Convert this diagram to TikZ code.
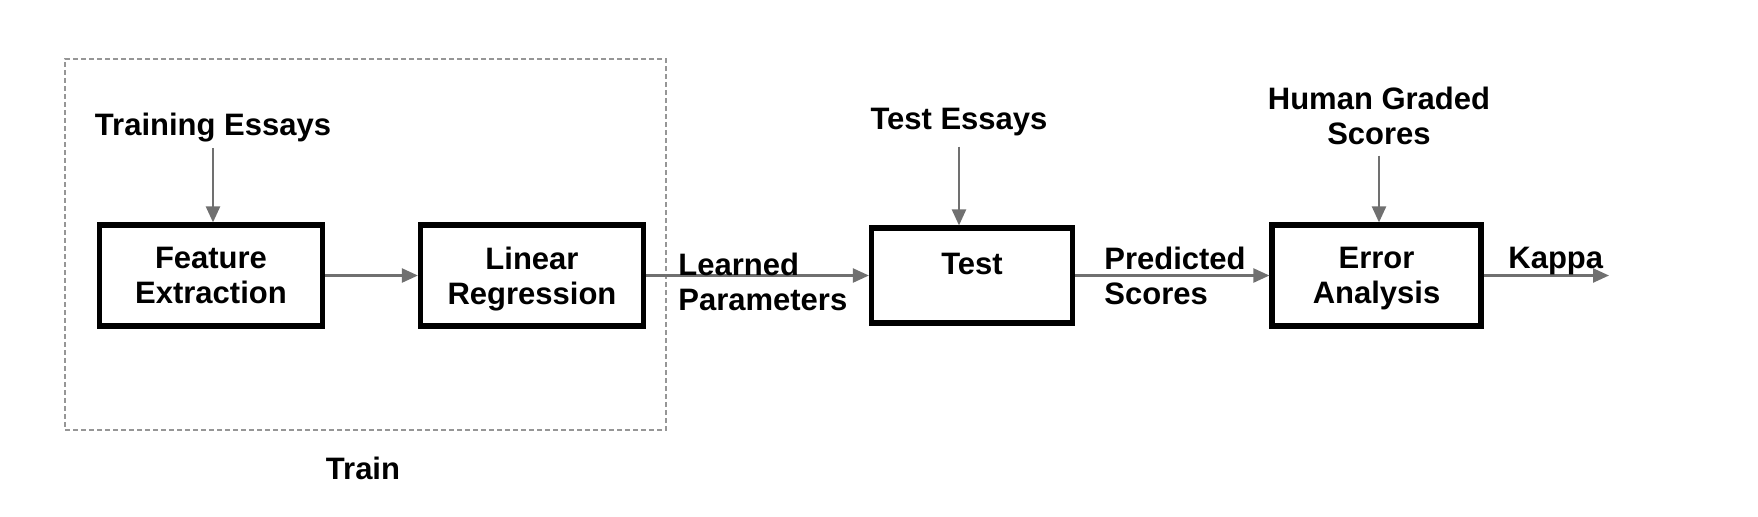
\documentclass[tikz,border=0pt]{standalone}
\usepackage{fontspec}
\setmainfont{Liberation Sans}
\usetikzlibrary{arrows.meta}
\definecolor{flowgray}{RGB}{112,112,112}
\definecolor{framegray}{RGB}{150,150,150}
\begin{document}
\begin{tikzpicture}[x=0.5pt, y=-0.5pt,
    font=\fontsize{15.5}{17.5}\selectfont\bfseries,
    block/.style={draw=black, line width=2.6pt, minimum width=111.5pt,
      minimum height=50.5pt, align=center, inner sep=0pt, text depth=0pt},
    lbl/.style={inner sep=0pt, align=left},
    flow/.style={draw=flowgray, line width=1.2pt,
      -{Triangle[length=8pt, width=7pt]}}]
  \useasboundingbox (0,0) rectangle (1758,516);
  % training stage, dashed frame
  \node[draw=framegray, line width=1pt, dash pattern=on 2.5pt off 1.5pt,
    minimum width=300.5pt, minimum height=185.5pt, inner sep=0pt]
    (trainbox) at (365.5,244.5) {};
  \node[lbl, anchor=north] (trainlbl) at (363,457) {Train};
  % blocks
  \node[block] (fe) at (211,275.5) {Feature\\Extraction};
  \node[block] (lr) at (532,275.5) {Linear\\Regression};
  \node[block, minimum width=100.5pt, minimum height=47.5pt,
    text height=11pt, text depth=12pt] (ts) at (972,275.5) {Test};
  \node[block, minimum width=104.5pt] (ea) at (1376.5,275.5) {Error\\Analysis};
  % inputs from above
  \node[lbl, anchor=north] (te) at (213,113) {Training Essays};
  \node[lbl, anchor=north] (tes) at (959,108) {Test Essays};
  \node[lbl, anchor=north, align=center] (hg) at (1379,87) {Human Graded\\Scores};
  \coordinate (kend) at (1609,275.5);
  \draw[flow, shorten <=2.5pt] (te) -- (te |- fe.north);
  \draw[flow, shorten <=5pt] (tes) -- (tes |- ts.north);
  \draw[flow, shorten <=5pt] (hg) -- (hg |- ea.north);
  % main flow
  \draw[flow] (fe) -- (lr);
  \draw[flow] (lr) -- (ts);
  \draw[flow] (ts) -- (ea);
  \draw[flow] (ea) -- (kend);
  % labels on the flow
  \node[lbl, anchor=north west] (lp) at (678,253) {Learned\\Parameters};
  \node[lbl, anchor=north west] (ps) at (1104,247) {Predicted\\Scores};
  \node[lbl, anchor=north west] (kp) at (1508,247) {Kappa};
\end{tikzpicture}
\end{document}
